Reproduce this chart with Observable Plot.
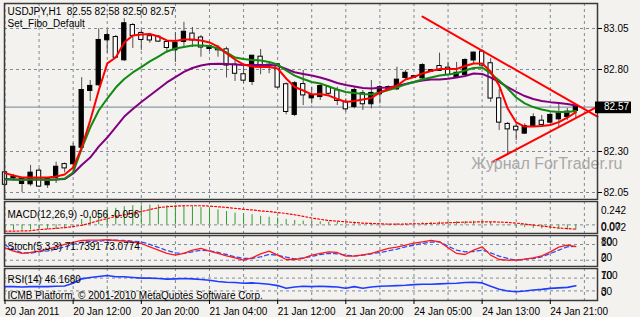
<!DOCTYPE html>
<html><head><meta charset="utf-8">
<script src="https://cdn.jsdelivr.net/npm/d3@7"></script>
<script src="https://cdn.jsdelivr.net/npm/@observablehq/plot@0.6"></script>
<style>
html,body{margin:0;padding:0;background:#f4f2ef;}
#chart{position:relative;width:640px;height:317px;overflow:hidden;background:#f4f2ef;}
</style></head><body><div id="chart"></div>
<script>
// ---------- data ----------
const symbol = "USDJPY,H1";
const templateName = "Set_Fibo_Default";
const watermark = "Журнал ForTrader.ru";
const platformNote = "ICMB Platform, © 2001-2010 MetaQuotes Software Corp.";

const open = [82.170,82.140,82.105,82.103,82.180,82.097,82.143,82.220,82.225,82.326,
82.672,82.707,82.981,82.995,82.859,83.068,83.020,83.000,82.997,82.965,
82.920,82.971,83.016,82.992,82.928,82.925,82.920,82.827,82.768,82.727,
82.875,82.826,82.829,82.707,82.526,82.708,82.627,82.635,82.690,82.670,
82.600,82.574,82.652,82.591,82.652,82.685,82.682,82.751,82.752,82.749,
82.789,82.818,82.808,82.753,82.770,82.858,82.906,82.835,82.621,82.465,
82.448,82.412,82.459,82.485,82.479,82.499,82.513,82.550];
const high = [82.180,82.160,82.142,82.215,82.196,82.135,82.235,82.230,82.349,82.750,
82.733,83.048,83.040,83.007,83.110,83.080,83.040,83.020,83.007,82.977,
83.026,83.088,83.056,83.007,82.950,82.946,82.936,82.855,82.830,82.885,
82.922,82.845,82.835,82.718,82.727,82.794,82.692,82.713,82.702,82.692,
82.621,82.692,82.672,82.733,82.702,82.700,82.814,82.794,82.765,82.835,
82.800,82.900,82.845,82.843,82.865,82.906,82.920,82.865,82.678,82.477,
82.465,82.469,82.530,82.520,82.530,82.599,82.562,82.580];
const low = [82.090,82.120,82.050,82.087,82.080,82.075,82.105,82.170,82.166,82.320,
82.605,82.696,82.900,82.867,82.850,82.928,82.916,82.960,82.965,82.900,
82.843,82.934,82.934,82.875,82.910,82.875,82.748,82.727,82.715,82.702,
82.768,82.774,82.683,82.524,82.513,82.580,82.590,82.611,82.641,82.580,
82.540,82.560,82.550,82.560,82.590,82.675,82.672,82.733,82.745,82.733,
82.785,82.790,82.763,82.748,82.763,82.835,82.814,82.600,82.428,82.288,
82.367,82.404,82.452,82.459,82.469,82.448,82.490,82.500];
const close = [82.100,82.142,82.129,82.168,82.089,82.129,82.204,82.200,82.326,82.672,
82.697,82.977,83.007,82.875,83.079,83.007,82.983,82.980,82.973,82.934,
82.960,83.027,82.980,82.937,82.940,82.920,82.827,82.777,82.735,82.881,
82.829,82.822,82.693,82.544,82.713,82.645,82.641,82.696,82.655,82.611,
82.560,82.672,82.591,82.654,82.689,82.690,82.735,82.777,82.756,82.824,
82.793,82.794,82.770,82.777,82.855,82.900,82.827,82.626,82.479,82.438,
82.432,82.452,82.506,82.465,82.520,82.530,82.540,82.570];

const maRed = [82.168,82.154,82.142,82.142,82.142,82.142,82.148,82.160,82.202,82.324,
82.489,82.672,82.837,82.873,82.965,83.007,83.013,83.016,83.001,82.977,
82.974,82.983,82.983,82.977,82.965,82.940,82.898,82.861,82.830,82.818,
82.815,82.815,82.806,82.745,82.693,82.672,82.648,82.651,82.641,82.620,
82.602,82.608,82.617,82.626,82.660,82.681,82.702,82.739,82.754,82.776,
82.791,82.803,82.803,82.803,82.821,82.837,82.837,82.788,82.702,82.562,
82.477,82.452,82.452,82.455,82.462,82.479,82.506,82.540];
const maGreen = [82.129,82.129,82.126,82.129,82.129,82.126,82.129,82.135,82.172,82.318,
82.446,82.550,82.623,82.690,82.742,82.782,82.815,82.849,82.879,82.910,
82.928,82.937,82.946,82.946,82.943,82.928,82.904,82.873,82.864,82.858,
82.855,82.846,82.830,82.794,82.763,82.742,82.724,82.715,82.696,82.678,
82.663,82.657,82.651,82.648,82.660,82.675,82.690,82.709,82.724,82.739,
82.751,82.763,82.770,82.777,82.794,82.809,82.812,82.776,82.733,82.684,
82.629,82.593,82.571,82.556,82.546,82.541,82.541,82.547];
const maPurple = [82.132,82.129,82.129,82.129,82.129,82.129,82.129,82.132,82.166,82.218,
82.263,82.330,82.385,82.449,82.513,82.559,82.602,82.641,82.681,82.721,
82.754,82.785,82.809,82.824,82.834,82.835,82.834,82.830,82.827,82.827,
82.827,82.827,82.824,82.803,82.783,82.773,82.763,82.751,82.736,82.718,
82.705,82.696,82.687,82.684,82.688,82.690,82.699,82.712,82.724,82.733,
82.739,82.739,82.743,82.751,82.760,82.776,82.773,82.751,82.724,82.693,
82.663,82.638,82.620,82.608,82.601,82.596,82.590,82.580];

const macdMain = [-0.065,-0.060,-0.058,-0.055,-0.055,-0.052,-0.048,-0.042,-0.010,0.057,
0.092,0.127,0.162,0.179,0.196,0.207,0.214,0.214,0.214,0.207,
0.207,0.207,0.196,0.186,0.172,0.162,0.144,0.127,0.116,0.109,
0.092,0.082,0.074,0.057,0.047,0.040,0.033,0.033,0.030,0.026,
0.019,0.019,0.012,0.008,0.008,0.008,0.012,0.015,0.019,0.022,
0.026,0.030,0.030,0.033,0.033,0.040,0.040,0.026,0.005,-0.010,
-0.023,-0.030,-0.037,-0.044,-0.048,-0.052,-0.055,-0.056];
const macdSignal = [-0.068,-0.068,-0.066,-0.064,-0.052,-0.045,-0.038,-0.030,-0.018,-0.005,
0.018,0.047,0.067,0.092,0.109,0.127,0.144,0.165,0.186,0.196,
0.203,0.207,0.207,0.207,0.203,0.196,0.189,0.179,0.168,0.162,
0.151,0.144,0.134,0.123,0.109,0.092,0.074,0.060,0.047,0.040,
0.033,0.026,0.019,0.015,0.012,0.008,0.008,0.008,0.012,0.012,
0.015,0.019,0.022,0.026,0.030,0.030,0.033,0.033,0.030,0.026,
0.019,0.008,-0.002,-0.013,-0.023,-0.034,-0.040,-0.047];

const stochMain = [67.5,54.8,45.9,49.7,54.8,62.4,71.3,80.3,87.9,95.5,
96.8,96.8,99,95.5,93,90.4,84,71.3,58.6,45.9,
39.5,45.9,58.6,65,54.8,45.9,36.9,29.3,20.4,29.3,
44.6,54.8,39.5,22.9,22.9,26.8,39.5,45.9,52.2,49.7,
35.7,35.7,40.8,45.9,56,65,70,77.7,85.4,90.4,
95.5,90.4,67.5,45.9,42,58.6,71.3,39.5,22.9,20.4,
20.4,24.2,29.3,36.9,52.2,70,77.7,71.7];
const stochSignal = [77.7,61.1,48.4,47.1,52.2,56,62.4,71.3,80.3,87.9,
91.7,93,95.5,96.8,95.5,93,90.4,80.3,68.8,57.3,
48.4,45.9,52.2,58.6,56,49.7,42,33.1,26.8,26.8,
33.1,42,39.5,31.8,25.5,29.3,34.4,42,45.9,44.6,
39.5,36.9,39.5,44.6,49.7,56,62.4,71.3,77.7,84,
89.2,90.4,73.9,58.6,52.2,53.5,58.6,48.4,35.7,26.8,
20.4,24.2,26.8,33.1,45.9,58.6,71.3,73.1];
const rsiValues = [43.4,43.4,42.3,43.4,43.4,43.4,44.4,45.5,54,67.7,
72,75.1,78.3,74.1,74.1,72,69.8,69.8,68.8,66.7,
67.7,68.8,67.7,65.6,63.5,59.3,57.1,56.1,54,55,
52.9,50.8,46.6,38.1,42.3,44.4,43.4,44.4,43.4,42.3,
38.1,43.4,38.1,42.3,44.4,45.5,46.6,47.6,49.7,50.8,
50.8,51.9,52.9,54,56.1,57.1,55,44.4,34.9,29.6,
27.5,29.6,32.8,34.9,38,39.5,41,46.2];

const macdReadout = [-0.056, -0.056];
const stochReadout = [71.7391, 73.0774];
const rsiReadout = 46.1680;

const timeLabels = ["20 Jan 2011","20 Jan 12:00","20 Jan 20:00","21 Jan 04:00","21 Jan 12:00","21 Jan 20:00","24 Jan 05:00","24 Jan 13:00","24 Jan 21:00"];
const timeLabelBars = [0,8,16,24,32,40,48,56,64];
const priceTicks = [83.05, 82.80, 82.30, 82.05];
const macdAxis = [0.242, 0.00, -0.072];
const stochLevels = [80, 20];
const rsiLevels = [70, 30];

const trendUpper = [{bar: 49.0, price: 83.123}, {bar: 69.54, price: 82.513}];
const trendLower = [{bar: 57.18, price: 82.235}, {bar: 69.54, price: 82.574}];

// ---------- layout / style ----------
const bg = "#f4f2ef";
const font = "'Liberation Sans', Arial, sans-serif";
const gridColor = "#7d8a97";
const dash = "3,3";
const frameColor = "#3a3a3a";
const xDomain = [-0.059, 69.54];
const gridBars = d3.range(0, 69, 4);
const M = {marginLeft: 4, marginRight: 43};
const style = {background: bg, fontFamily: font, fontSize: "10px", color: "#000", overflow: "visible"};

const n = open.length;
const bars = open.map((o, i) => ({
  i, o, h: high[i], l: low[i], c: close[i],
  red: maRed[i], green: maGreen[i], purple: maPurple[i],
  macd: macdMain[i], sig: macdSignal[i],
  k: stochMain[i], d: stochSignal[i], rsi: rsiValues[i]
}));
const last = bars[n - 1];
const xEnd = () => xDomain[1];
const chart = document.getElementById("chart");
function place(svg, top) {
  svg.style.position = "absolute";
  svg.style.left = "0px";
  svg.style.top = top + "px";
  chart.append(svg);
}
const gx = () => Plot.gridX(gridBars, {stroke: gridColor, strokeOpacity: 1, strokeDasharray: dash});
const panelFrame = () => Plot.frame({stroke: frameColor, strokeWidth: 1.5});

// ---------- main price panel ----------
const header1 = symbol + "\u00a0\u00a0" + [last.o, last.h, last.l, last.c].map(v => v.toFixed(2)).join(" ");
const main = Plot.plot({
  width: 640, height: 200, marginTop: 3, marginBottom: 1, ...M, style,
  x: {domain: xDomain, axis: null},
  y: {domain: [82.0073, 83.2024], axis: null, label: null},
  marks: [
    gx(),
    Plot.gridY(priceTicks, {stroke: gridColor, strokeOpacity: 1, strokeDasharray: dash}),
    Plot.ruleY([last], {y: "c", stroke: "#8a98a6", strokeWidth: 1.2}),
    Plot.ruleX(bars, {x: "i", y1: "l", y2: "h", stroke: "#505050", strokeWidth: 1}),
    Plot.rect(bars, {
      x1: d => d.i - 0.25, x2: d => d.i + 0.25,
      y1: d => Math.min(d.o, d.c), y2: d => Math.max(d.o, d.c),
      insetTop: -0.5, insetBottom: -0.5,
      fill: d => d.c >= d.o ? "#000" : "#fff", stroke: "#000", strokeWidth: 1
    }),
    Plot.line(bars, {x: "i", y: "purple", stroke: "#800080", strokeWidth: 2}),
    Plot.line(bars, {x: "i", y: "green", stroke: "#108a10", strokeWidth: 2}),
    Plot.line(bars, {x: "i", y: "red", stroke: "#ff0000", strokeWidth: 2}),
    Plot.line(trendUpper, {x: "bar", y: "price", stroke: "#ff0000", strokeWidth: 2}),
    Plot.line(trendLower, {x: "bar", y: "price", stroke: "#ff0000", strokeWidth: 2}),
    Plot.text([watermark], {frameAnchor: "bottom-right", text: d => d, textAnchor: "end", lineAnchor: "middle", dx: 25, dy: -35.6, fontSize: 16, fill: "#a8a8a8"}),
    panelFrame(),
    Plot.axisY({anchor: "right", ticks: priceTicks, tickFormat: d3.format(".2f"), tickSize: 4, tickPadding: 2, label: null, fontSize: 10}),
    Plot.rect([last], {x1: xEnd, x2: xEnd, y1: "c", y2: "c", insetLeft: -2, insetRight: -34, insetTop: -5.2, insetBottom: -6.5, fill: "#000"}),
    Plot.text([last], {x: xEnd, y: "c", text: d => d.c.toFixed(2), dx: 6.5, textAnchor: "start", fill: "#fff"}),
    Plot.text([header1], {frameAnchor: "top-left", text: d => d, textAnchor: "start", lineAnchor: "top", dx: 3, dy: 4.4}),
    Plot.text([templateName], {frameAnchor: "top-left", text: d => d, textAnchor: "start", lineAnchor: "top", dx: 3, dy: 16.4})
  ]
});
place(main, 0);

// ---------- MACD panel ----------
const macdLabel = `MACD(12,26,9) ${macdReadout[0].toFixed(3)} ${macdReadout[1].toFixed(3)}`;
const macd = Plot.plot({
  width: 640, height: 34, marginTop: 1, marginBottom: 1, ...M, style,
  x: {domain: xDomain, axis: null},
  y: {domain: [macdAxis[2], macdAxis[0]], insetTop: 1, insetBottom: 2, axis: null, label: null},
  marks: [
    gx(),
    Plot.ruleY([0], {stroke: gridColor, strokeDasharray: dash}),
    Plot.ruleX(bars, {x: "i", y1: 0, y2: "macd", stroke: "#2f9e2f", strokeWidth: 1}),
    Plot.line(bars, {x: "i", y: "sig", stroke: "#ff0000", strokeWidth: 1.2, strokeDasharray: "2,2"}),
    panelFrame(),
    Plot.text([macdLabel], {frameAnchor: "top-left", text: d => d, textAnchor: "start", lineAnchor: "top", dx: 3, dy: 8.9}),
    Plot.text([macdAxis[0]], {x: xEnd, y: d => d, text: d => d.toFixed(3), dx: 3.5, dy: 8, textAnchor: "start"}),
    Plot.text([macdAxis[1]], {x: xEnd, y: d => d, text: d => d.toFixed(2), dx: 3.5, dy: 2, textAnchor: "start"}),
    Plot.text([macdAxis[2]], {x: xEnd, y: d => d, text: d => Math.abs(d).toFixed(3), dx: 3.5, dy: -4, textAnchor: "start"})
  ]
});
place(macd, 200);

// ---------- Stochastic panel ----------
const stochLabel = `Stoch(5,3,3) ${stochReadout[0].toFixed(4)} ${stochReadout[1].toFixed(4)}`;
const stoch = Plot.plot({
  width: 640, height: 33, marginTop: 1, marginBottom: 1, ...M, style,
  x: {domain: xDomain, axis: null},
  y: {domain: [0, 100], insetTop: 3.8, insetBottom: 1, axis: null, label: null},
  marks: [
    gx(),
    Plot.ruleY(stochLevels, {stroke: gridColor, strokeDasharray: dash}),
    Plot.line(bars, {x: "i", y: "d", stroke: "#2b4cff", strokeWidth: 1.3, strokeDasharray: "4,3"}),
    Plot.line(bars, {x: "i", y: "k", stroke: "#ff1a1a", strokeWidth: 1.3}),
    panelFrame(),
    Plot.text([stochLabel], {frameAnchor: "top-left", text: d => d, textAnchor: "start", lineAnchor: "top", dx: 3, dy: 6.9}),
    Plot.text([100], {x: xEnd, y: d => d, text: d => String(d), dx: 3.5, dy: 3, textAnchor: "start"}),
    Plot.text([stochLevels[0]], {x: xEnd, y: d => d, text: d => String(d), dx: 3.5, dy: -2.3, textAnchor: "start"}),
    Plot.text([stochLevels[1]], {x: xEnd, y: d => d, text: d => String(d), dx: 3.5, dy: -2.7, textAnchor: "start"}),
    Plot.text([0], {x: xEnd, y: d => d, text: d => String(d), dx: 3.5, dy: -7, textAnchor: "start"})
  ]
});
place(stoch, 234);

// ---------- RSI panel with time axis ----------
const rsiLabel = `RSI(14) ${rsiReadout.toFixed(4)}`;
const rsi = Plot.plot({
  width: 640, height: 50, marginTop: 1, marginBottom: 17, ...M, style,
  x: {domain: xDomain, axis: null},
  y: {domain: [0, 100], axis: null, label: null},
  marks: [
    gx(),
    Plot.ruleY(rsiLevels, {stroke: gridColor, strokeDasharray: dash}),
    Plot.line(bars, {x: "i", y: "rsi", stroke: "#1f3cff", strokeWidth: 1.6}),
    panelFrame(),
    Plot.text([rsiLabel], {frameAnchor: "top-left", text: d => d, textAnchor: "start", lineAnchor: "top", dx: 3, dy: 7.4}),
    Plot.text([platformNote], {frameAnchor: "top-left", text: d => d, textAnchor: "start", lineAnchor: "top", dx: 3, dy: 23.4}),
    Plot.text([100], {x: xEnd, y: d => d, text: d => String(d), dx: 3.5, dy: 7, textAnchor: "start"}),
    Plot.text([rsiLevels[0]], {x: xEnd, y: d => d, text: d => String(d), dx: 3.5, dy: -2.6, textAnchor: "start"}),
    Plot.text([rsiLevels[1]], {x: xEnd, y: d => d, text: d => String(d), dx: 3.5, dy: 0.6, textAnchor: "start"}),
    Plot.text([0], {x: xEnd, y: d => d, text: d => String(d), dx: 3.5, dy: -8, textAnchor: "start"}),
    Plot.axisX({anchor: "bottom", ticks: timeLabelBars, tickFormat: d => timeLabels[timeLabelBars.indexOf(d)], tickSize: 4, tickPadding: 3, textAnchor: "start", label: null, fontSize: 10})
  ]
});
place(rsi, 267);
</script>
</body></html>
